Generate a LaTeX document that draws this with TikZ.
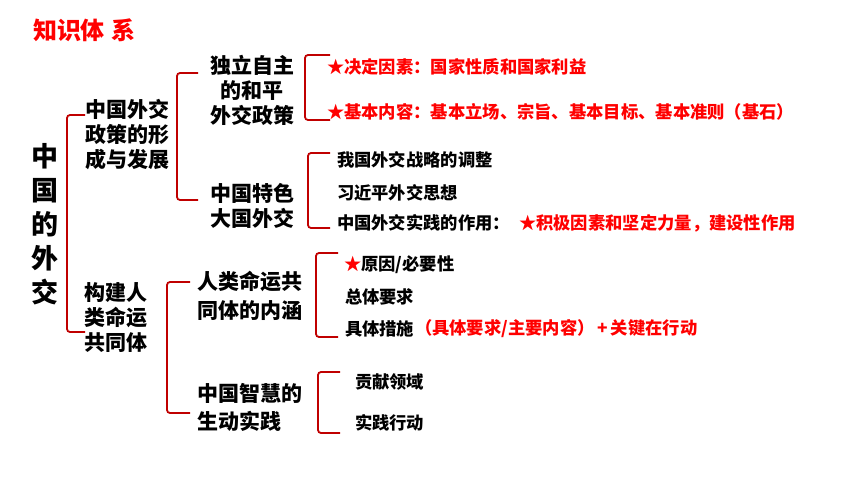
\documentclass[tikz,border=0pt]{standalone}
\usepackage{fontspec}
\setmainfont{Noto Sans CJK SC}
\definecolor{brkred}{HTML}{C00000}
\definecolor{txtred}{HTML}{FF0000}
\begin{document}
\begin{tikzpicture}[x=1pt,y=-1pt,
  every node/.style={inner sep=0pt, outer sep=0pt},
  brk/.style={draw=brkred, line width=1.8pt, rounded corners=3pt},
  titletxt/.style={font=\fontsize{24}{28}\selectfont\bfseries, text=txtred, anchor=west},
  lvmain/.style={font=\fontsize{27}{34}\selectfont\bfseries, align=center},
  lvone/.style={font=\fontsize{21}{25}\selectfont\bfseries, align=left},
  lvtwo/.style={font=\fontsize{21}{25}\selectfont\bfseries, align=center},
  lvtwob/.style={font=\fontsize{21}{28.5}\selectfont\bfseries, align=left, anchor=west},
  leaf/.style={font=\fontsize{17.3}{20}\selectfont\bfseries, anchor=west},
  leafred/.style={leaf, text=txtred}]
\useasboundingbox (0,0) rectangle (860,484);
\fill[white] (0,0) rectangle (860,484);

\node[titletxt] (title) at (33,30) {知识体\hspace{7pt}系};

\node[lvmain] (main) at (45,224) {中\\国\\的\\外\\交};

\node[lvone] (n1) at (127,135) {中国外交\\政策的形\\成与发展};
\node[lvone] (n2) at (116,318) {构建人\\类命运\\共同体};

\node[lvtwo] (n11) at (252,90) {独立自主\\的和平\\外交政策};
\node[lvtwo] (n12) at (252,205.5) {中国特色\\大国外交};
\node[lvtwob] (n21) at (197,296) {人类命运共\\同体的内涵};
\node[lvtwob] (n22) at (197,407.5) {中国智慧的\\生动实践};

\node[leafred] (a1) at (327,67) {★决定因素：国家性质和国家利益};
\node[leafred] (a2) at (327,112) {★基本内容：基本立场、宗旨、基本目标、基本准则（基石）};

\node[leaf] (b1) at (337,160) {我国外交战略的调整};
\node[leaf] (b2) at (337,193) {习近平外交思想};
\node[leaf] (b3) at (337,223) {中国外交实践的作用：};
\node[leafred] (b3r) at (519,223) {★积极因素和坚定力量，建设性作用};

\node[leaf] (c1) at (344,265) {{\color{txtred}★}原因/必要性};
\node[leaf] (c2) at (345,297) {总体要求};
\node[leaf] (c3) at (345,329) {具体措施};
\node[leafred] (c3r) at (415,329) {（具体要求/主要内容）\,+\,关键在行动};

\node[leaf] (d1) at (355,382) {贡献领域};
\node[leaf] (d2) at (355,423) {实践行动};

% bracket end points
\coordinate (k1t) at (85,115);  \coordinate (k1b) at (85,332);
\coordinate (k2t) at (198,73);  \coordinate (k2b) at (198,200);
\coordinate (k3t) at (190,282); \coordinate (k3b) at (190,413);
\coordinate (k4t) at (330,55);  \coordinate (k4b) at (330,120);
\coordinate (k5t) at (330,153); \coordinate (k5b) at (330,228);
\coordinate (k6t) at (338,253); \coordinate (k6b) at (338,337);
\coordinate (k7t) at (340,372); \coordinate (k7b) at (340,433);

\draw[brk] (k1t) -- ++(-18,0) |- (k1b);
\draw[brk] (k2t) -- ++(-21,0) |- (k2b);
\draw[brk] (k3t) -- ++(-23,0) |- (k3b);
\draw[brk] (k4t) -- ++(-25,0) |- (k4b);
\draw[brk] (k5t) -- ++(-22,0) |- (k5b);
\draw[brk] (k6t) -- ++(-22,0) |- (k6b);
\draw[brk] (k7t) -- ++(-22,0) |- (k7b);
\end{tikzpicture}
\end{document}
